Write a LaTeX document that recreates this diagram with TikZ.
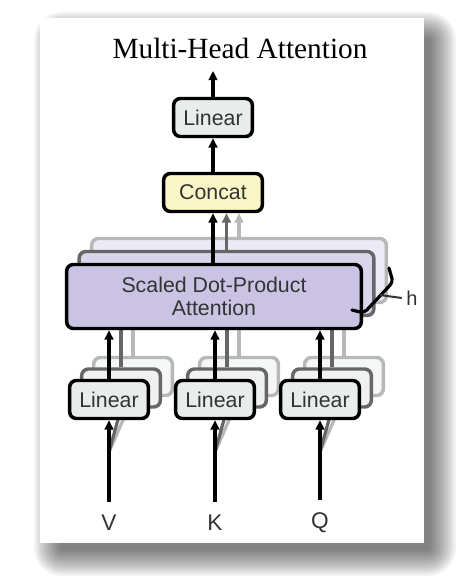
\documentclass[tikz,border=0pt]{standalone}
\usepackage{fontspec}
\setmainfont{Liberation Serif}
\setsansfont{Liberation Sans}
\usetikzlibrary{arrows.meta}
\definecolor{linfill}{HTML}{E8ECEB}
\definecolor{catfill}{HTML}{FBF6C6}
\definecolor{attfill}{HTML}{CAC3E3}
\definecolor{txtgray}{HTML}{333333}

\begin{document}
\begin{tikzpicture}[x=0.75pt,y=0.75pt,yscale=-1,xscale=1,
	box/.style={draw, line width=2.6pt, rounded corners=5pt, inner sep=0pt, text=txtgray, font=\sffamily\fontsize{16}{17}\selectfont},
	linear/.style={box, fill=linfill, minimum width=59pt, minimum height=28.5pt},
	attn/.style={box, fill=attfill, minimum width=221pt, minimum height=48pt, align=center},
	lay1/.style={draw=black!60},
	lay2/.style={draw=black!28},
	flow/.style={line width=2.4pt, -{Triangle[length=7pt,width=6.5pt]}},
	flow1/.style={flow, color=black!60},
	flow2/.style={flow, color=black!28},
	inlabel/.style={text=txtgray, font=\sffamily\fontsize{17}{19}\selectfont},
	shade/.style={fill=black, opacity=0.048}]

	\useasboundingbox (0,0) rectangle (470,580);

	\fill[shade,rounded corners=2pt] (60,38) rectangle (430,550);
	\fill[shade,rounded corners=3pt] (58,36) rectangle (432,552);
	\fill[shade,rounded corners=5pt] (56,34) rectangle (434,554);
	\fill[shade,rounded corners=6pt] (54,32) rectangle (436,556);
	\fill[shade,rounded corners=8pt] (52,30) rectangle (438,558);
	\fill[shade,rounded corners=9pt] (50,28) rectangle (440,560);
	\fill[shade,rounded corners=11pt] (48,26) rectangle (442,562);
	\fill[shade,rounded corners=12pt] (46,24) rectangle (444,564);
	\fill[shade,rounded corners=14pt] (44,22) rectangle (446,566);
	\fill[shade,rounded corners=15pt] (42,20) rectangle (448,568);
	\fill[shade,rounded corners=17pt] (40,18) rectangle (450,570);
	\fill[shade,rounded corners=18pt] (38,16) rectangle (452,572);
	\fill[shade,rounded corners=20pt] (36,14) rectangle (454,574);
	\fill[shade,rounded corners=21pt] (34,12) rectangle (456,576);
	\fill[white] (40,18) rectangle (424,543);

	\node (title) at (240,48.5) {\fontsize{22}{26}\selectfont Multi-Head Attention};
	\node[linear] (linTop) at (213,117.5) {Linear};
	\node[box, fill=catfill, minimum width=74pt, minimum height=28.5pt] (concat) at (213,192.5) {Concat};
	\draw[flow, shorten >=5.5pt] (linTop.north) -- (linTop.north |- title.south);
	\draw[flow] (concat.north) -- (linTop.south);

	\coordinate (vsplit) at (109,452);
	\coordinate (ksplit) at (215,452);
	\coordinate (qsplit) at (320,452);

	\node[attn, lay2, fill=attfill!35!white] (att2) at (239,270.5) {};
	\node[linear, lay2, fill=linfill!45!white] (linV2) at (133,376.5) {};
	\node[linear, lay2, fill=linfill!45!white] (linK2) at (239,376.5) {};
	\node[linear, lay2, fill=linfill!45!white] (linQ2) at (344,376.5) {};
	\draw[flow2] (linV2.north) -- (linV2.north |- att2.south);
	\draw[flow2] (linK2.north) -- (linK2.north |- att2.south);
	\draw[flow2] (linQ2.north) -- (linQ2.north |- att2.south);
	\draw[flow2] (att2.north) -- (att2.north |- concat.south);
	\draw[flow2] (vsplit) -- (linV2.south);
	\draw[flow2] (ksplit) -- (linK2.south);
	\draw[flow2] (qsplit) -- (linQ2.south);

	\node[attn, lay1, fill=attfill!70!white] (att1) at (226.5,283.5) {};
	\node[linear, lay1, fill=linfill!75!white] (linV1) at (121,388) {};
	\node[linear, lay1, fill=linfill!75!white] (linK1) at (227,388) {};
	\node[linear, lay1, fill=linfill!75!white] (linQ1) at (332,388) {};
	\draw[flow1] (linV1.north) -- (linV1.north |- att1.south);
	\draw[flow1] (linK1.north) -- (linK1.north |- att1.south);
	\draw[flow1] (linQ1.north) -- (linQ1.north |- att1.south);
	\draw[flow1] (att1.north) -- (att1.north |- concat.south);
	\draw[flow1] (vsplit) -- (linV1.south);
	\draw[flow1] (ksplit) -- (linK1.south);
	\draw[flow1] (qsplit) -- (linQ1.south);

	\node[attn] (att) at (214,296.5) {Scaled Dot-Product\\Attention};
	\node[linear] (linV) at (109,399.5) {Linear};
	\node[linear] (linK) at (215,399.5) {Linear};
	\node[linear] (linQ) at (320,399.5) {Linear};
	\draw[flow] (linV.north) -- (linV.north |- att.south);
	\draw[flow] (linK.north) -- (linK.north |- att.south);
	\draw[flow] (linQ.north) -- (linQ.north |- att.south);
	\draw[flow] (att.north -| concat.south) -- (concat.south);

	\node[inlabel] (vin) at (109,522.5) {V};
	\node[inlabel] (kin) at (215,522.5) {K};
	\node[inlabel] (qin) at (320,522.5) {Q};
	\draw[flow, shorten <=6pt] (vin.north) -- (linV.south);
	\draw[flow, shorten <=6pt] (kin.north) -- (linK.south);
	\draw[flow, shorten <=6pt] (qin.north) -- (linQ.south);

	\draw[line width=2.4pt, line cap=round, rounded corners=3pt] (389,268) -- (393,282) -- (364,313) -- (352,310);
	\coordinate (bracetip) at (380,295);
	\node[inlabel, font=\sffamily\fontsize{15}{17}\selectfont] (heads) at (412,298) {h};
	\draw[line width=1.5pt, color=black!80] (bracetip) -- (heads.west);

\end{tikzpicture}
\end{document}
